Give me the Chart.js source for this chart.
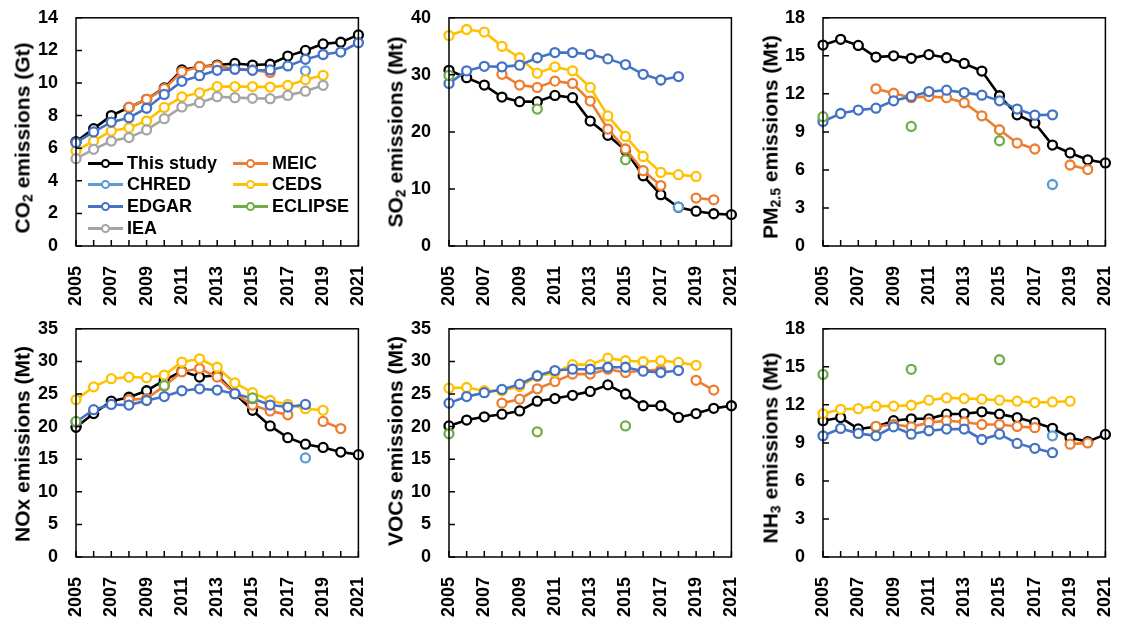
<!DOCTYPE html>
<html><head><meta charset="utf-8">
<script src="https://cdn.jsdelivr.net/npm/chart.js@4"></script>
<style>
body{margin:0;background:#fff;width:1121px;height:619px;overflow:hidden;position:relative;font-family:"Liberation Sans",Arial,sans-serif;}
.panel{position:absolute;}
.ytitle{position:absolute;font-weight:bold;font-size:21px;white-space:nowrap;transform:translate(-50%,-50%) rotate(-90deg);color:#000;line-height:1;}
.ytitle .sb{font-size:14px;position:relative;top:3px;}
.lg{position:absolute;font-weight:bold;font-size:18px;color:#000;white-space:nowrap;height:20px;line-height:20px;}
.lg .ln{position:absolute;left:0;top:9px;width:35px;height:2.6px;}
.lg .ci{position:absolute;left:13px;top:6px;width:5px;height:5px;border:2px solid;border-radius:50%;background:#fff;}
.lg .tx{position:absolute;left:39px;top:0;}
</style>
</head><body>
<script>
// ---------- DATA ----------
const years = [2005,2006,2007,2008,2009,2010,2011,2012,2013,2014,2015,2016,2017,2018,2019,2020,2021];
const seriesNames = ['This study','MEIC','CHRED','CEDS','EDGAR','ECLIPSE','IEA'];
const seriesColors = ['#000000','#ED7D31','#5B9BD5','#FFC000','#4472C4','#70AD47','#A5A5A5'];

// CO2 (Gt)
const co2_thisStudy = [6.4,7.2,8.0,8.5,9.0,9.7,10.8,11.0,11.1,11.2,11.1,11.15,11.65,12.0,12.4,12.5,12.95];
const co2_meic      = [null,null,null,8.5,9.0,9.65,10.7,11.0,11.05,10.85,10.8,10.65,null,null,null,null,null];
const co2_chred     = [null,null,null,null,null,null,null,null,null,null,null,null,null,10.75,null,null,null];
const co2_ceds      = [5.83,6.45,7.05,7.25,7.67,8.5,9.15,9.4,9.78,9.78,9.78,9.75,9.85,10.2,10.47,null,null];
const co2_edgar     = [6.34,7.0,7.6,7.87,8.45,9.3,10.1,10.45,10.78,10.85,10.78,10.8,11.05,11.45,11.75,11.9,12.47];
const co2_iea       = [5.36,5.93,6.44,6.65,7.12,7.81,8.53,8.79,9.16,9.1,9.06,9.04,9.24,9.5,9.86,null,null];

// SO2 (Mt)
const so2_thisStudy = [30.8,29.5,28.2,26.1,25.3,25.3,26.4,26.0,21.9,19.4,16.8,12.3,9.0,6.8,6.1,5.65,5.5];
const so2_meic      = [null,null,null,30.1,28.2,27.8,28.9,28.5,25.4,20.5,17.0,13.2,10.6,null,8.4,8.1,null];
const so2_chred     = [null,null,null,null,null,null,null,null,null,null,null,null,null,6.8,null,null,null];
const so2_ceds      = [36.9,37.95,37.5,35.0,33.0,30.3,31.4,30.7,27.8,22.8,19.2,15.7,12.9,12.5,12.2,null,null];
const so2_edgar     = [28.5,30.7,31.5,31.4,31.7,33.0,33.9,33.9,33.6,32.8,31.8,30.1,29.1,29.7,null,null,null];
const so2_eclipse   = [29.9,null,null,null,null,24.0,null,null,null,null,15.1,null,null,null,null,null,null];

// PM2.5 (Mt)
const pm_thisStudy = [15.85,16.3,15.82,14.9,15.0,14.8,15.1,14.85,14.4,13.8,11.85,10.35,9.7,7.96,7.34,6.8,6.55];
const pm_meic      = [null,null,null,12.4,12.05,11.7,11.8,11.7,11.3,10.27,9.17,8.12,7.65,null,6.39,6.03,null];
const pm_chred     = [null,null,null,null,null,null,null,null,null,null,null,null,null,4.85,null,null,null];
const pm_edgar     = [9.82,10.45,10.72,10.87,11.45,11.8,12.18,12.29,12.1,11.9,11.45,10.8,10.32,10.35,null,null,null];
const pm_eclipse   = [10.2,null,null,null,null,9.43,null,null,null,null,8.3,null,null,null,null,null,null];

// NOx (Mt)
const nox_thisStudy = [19.9,22.0,23.9,24.5,25.5,27.1,28.5,27.6,27.9,25.05,22.5,20.1,18.3,17.3,16.8,16.1,15.7];
const nox_meic      = [null,null,null,24.1,24.3,26.2,28.4,28.9,27.6,25.05,23.3,22.4,21.8,null,20.8,19.7,null];
const nox_chred     = [null,null,null,null,null,null,null,null,null,null,null,null,null,15.2,null,null,null];
const nox_ceds      = [24.1,26.1,27.35,27.6,27.5,27.9,29.9,30.4,29.1,26.7,25.2,24.0,23.4,22.75,22.5,null,null];
const nox_edgar     = [20.7,22.6,23.4,23.3,24.0,24.6,25.5,25.8,25.6,25.05,24.3,23.3,23.0,23.4,null,null,null];
const nox_eclipse   = [20.8,null,null,null,null,26.3,null,null,null,null,24.4,null,null,null,null,null,null];

// VOCs (Mt)
const voc_thisStudy = [20.1,21.0,21.5,21.9,22.4,23.9,24.3,24.8,25.4,26.4,25.0,23.2,23.2,21.4,22.0,22.8,23.2];
const voc_meic      = [null,null,null,23.6,24.2,25.8,26.9,28.05,28.05,28.8,28.3,28.6,28.7,null,27.1,25.6,null];
const voc_ceds      = [25.9,26.0,25.5,25.5,26.15,27.7,28.3,29.5,29.5,30.5,30.1,29.95,30.1,29.85,29.4,null,null];
const voc_edgar     = [23.6,24.6,25.2,25.7,26.5,27.8,28.6,28.8,28.8,29.1,29.1,28.5,28.3,28.6,null,null,null];
const voc_eclipse   = [18.9,null,null,null,null,19.2,null,null,null,null,20.1,null,null,null,null,null,null];

// NH3 (Mt)
const nh3_thisStudy = [10.75,11.0,10.1,10.27,10.75,10.9,10.9,11.27,11.3,11.45,11.27,11.0,10.6,10.15,9.4,9.1,9.67];
const nh3_meic      = [null,null,null,10.3,10.45,10.27,10.6,10.75,10.65,10.45,10.45,10.3,10.2,null,8.9,9.0,null];
const nh3_chred     = [null,null,null,null,null,null,null,null,null,null,null,null,null,9.56,null,null,null];
const nh3_ceds      = [11.3,11.65,11.7,11.9,11.9,11.97,12.37,12.55,12.5,12.45,12.37,12.29,12.18,12.23,12.29,null,null];
const nh3_edgar     = [9.56,10.14,9.75,9.56,10.27,9.69,9.96,10.09,10.09,9.27,9.69,8.96,8.57,8.23,null,null,null];
const nh3_eclipse   = [14.4,null,null,null,null,14.8,null,null,null,null,15.56,null,null,null,null,null,null];

// ---------- LAYOUT ----------
const YAXIS_W = 76, XAXIS_H = 64;
const panels = [
  {left:0,   top:-11, title:'CO<span class="sb">2</span> emissions (Gt)', tx:22, ty:138, max:14, step:2,
   series:{'This study':co2_thisStudy,'MEIC':co2_meic,'CHRED':co2_chred,'CEDS':co2_ceds,'EDGAR':co2_edgar,'IEA':co2_iea}},
  {left:373, top:-11, title:'SO<span class="sb">2</span> emissions (Mt)', tx:395, ty:132, max:40, step:10,
   series:{'This study':so2_thisStudy,'MEIC':so2_meic,'CHRED':so2_chred,'CEDS':so2_ceds,'EDGAR':so2_edgar,'ECLIPSE':so2_eclipse}},
  {left:747, top:-11, title:'PM<span class="sb">2.5</span> emissions (Mt)', tx:770, ty:137, max:18, step:3,
   series:{'This study':pm_thisStudy,'MEIC':pm_meic,'CHRED':pm_chred,'EDGAR':pm_edgar,'ECLIPSE':pm_eclipse}},
  {left:0,   top:300, title:'NOx emissions (Mt)', tx:22, ty:444, max:35, step:5,
   series:{'This study':nox_thisStudy,'MEIC':nox_meic,'CHRED':nox_chred,'CEDS':nox_ceds,'EDGAR':nox_edgar,'ECLIPSE':nox_eclipse}},
  {left:373, top:300, title:'VOCs emissions (Mt)', tx:395, ty:441, max:35, step:5,
   series:{'This study':voc_thisStudy,'MEIC':voc_meic,'CEDS':voc_ceds,'EDGAR':voc_edgar,'ECLIPSE':voc_eclipse}},
  {left:747, top:300, title:'NH<span class="sb">3</span> emissions (Mt)', tx:770, ty:448, max:18, step:3,
   series:{'This study':nh3_thisStudy,'MEIC':nh3_meic,'CHRED':nh3_chred,'CEDS':nh3_ceds,'EDGAR':nh3_edgar,'ECLIPSE':nh3_eclipse}}
];

const boxPlugin = {
  id:'box',
  afterDatasetsDraw(chart){
    const {ctx, chartArea:a, scales} = chart;
    ctx.save();
    ctx.strokeStyle = '#000'; ctx.lineWidth = 1.5;
    ctx.beginPath();
    scales.x.ticks.forEach((t,i)=>{
      const px = scales.x.getPixelForTick(i);
      ctx.moveTo(px, a.bottom); ctx.lineTo(px, a.bottom-6);
    });
    scales.y.ticks.forEach((t,i)=>{
      const py = scales.y.getPixelForTick(i);
      ctx.moveTo(a.left, py); ctx.lineTo(a.left+6, py);
    });
    ctx.stroke();
    ctx.strokeRect(a.left, a.top, a.right-a.left, a.bottom-a.top);
    ctx.restore();
  }
};

const font = {family:'"Liberation Sans", Arial, sans-serif', weight:'bold', size:18};

panels.forEach((p, pi)=>{
  const W = 392, H = 321;
  const div = document.createElement('div');
  div.className = 'panel';
  div.style.left = p.left+'px'; div.style.top = p.top+'px';
  div.style.width = W+'px'; div.style.height = H+'px';
  const cv = document.createElement('canvas');
  cv.width = W; cv.height = H;
  cv.style.width = W+'px'; cv.style.height = H+'px';
  div.appendChild(cv);
  document.body.appendChild(div);

  const t = document.createElement('div');
  t.className = 'ytitle';
  t.innerHTML = p.title;
  t.style.left = p.tx+'px'; t.style.top = p.ty+'px';
  document.body.appendChild(t);

  const datasets = [];
  seriesNames.forEach((name, i)=>{
    const d = p.series[name];
    if (!d) return;
    const scatterOnly = (name === 'CHRED' || name === 'ECLIPSE');
    datasets.push({
      label:name, data:d,
      borderColor:seriesColors[i], backgroundColor:'#fff',
      pointBackgroundColor:'#fff', pointBorderColor:seriesColors[i],
      pointRadius:4.5, pointBorderWidth:2.3, pointHoverRadius:4.5,
      borderWidth:2.6, showLine:!scatterOnly, spanGaps:false,
      order: 10 - i, tension:0
    });
  });

  new Chart(cv, {
    type:'line',
    data:{labels:years.map(String), datasets},
    plugins:[boxPlugin],
    options:{
      responsive:false, animation:false, devicePixelRatio:1,
      events:[],
      layout:{padding:{top:6, right:0, left:0, bottom:0}},
      plugins:{legend:{display:false}, tooltip:{enabled:false}},
      scales:{
        x:{
          offset:false,
          grid:{display:false},
          border:{display:false},
          ticks:{autoSkip:false, minRotation:90, maxRotation:90, color:'#000', font, padding:12,
                 callback:(v,i)=> ((years[i]-2005)%2===0 ? String(years[i]) : '')},
          afterFit:(s)=>{ s.height = XAXIS_H; }
        },
        y:{
          min:0, max:p.max,
          grid:{display:false, drawTicks:false},
          border:{display:false},
          ticks:{stepSize:p.step, color:'#000', font, padding:18},
          afterFit:(s)=>{ s.width = YAXIS_W; }
        }
      }
    }
  });
});

// ---------- LEGEND (inside CO2 panel) ----------
const legendPos = [
  [88,153],[233,153],
  [88,174],[233,174],
  [88,196],[233,196],
  [88,218]
];
seriesNames.forEach((name,i)=>{
  const el = document.createElement('div');
  el.className = 'lg';
  el.style.left = legendPos[i][0]+'px'; el.style.top = legendPos[i][1]+'px';
  el.innerHTML = '<span class="ln" style="background:'+seriesColors[i]+'"></span>'+
                 '<span class="ci" style="border-color:'+seriesColors[i]+'"></span>'+
                 '<span class="tx">'+name+'</span>';
  document.body.appendChild(el);
});
</script>
</body></html>
